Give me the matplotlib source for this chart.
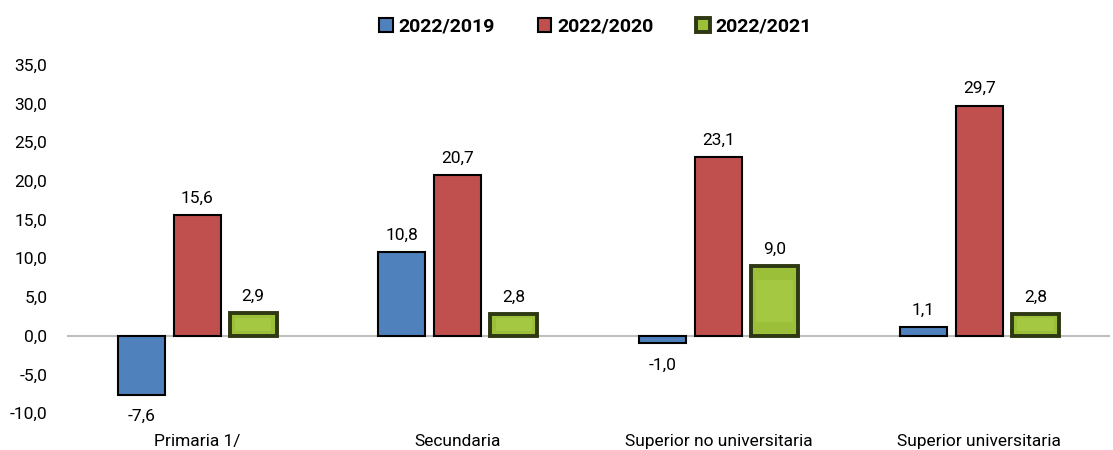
import numpy as np
import matplotlib
matplotlib.use("Agg")
import matplotlib.pyplot as plt
from matplotlib import font_manager

# pick a narrow font if available
names = {f.name for f in font_manager.fontManager.ttflist}
fam = ["Liberation Sans Narrow", "DejaVu Sans"] if "Liberation Sans Narrow" in names else ["Roboto", "DejaVu Sans"]
plt.rcParams["font.family"] = fam

categories = ["Primaria 1/", "Secundaria", "Superior no universitaria", "Superior universitaria"]
series = ["2022/2019", "2022/2020", "2022/2021"]
v2019 = [-7.6, 10.8, -1.0, 1.1]
v2020 = [15.6, 20.7, 23.1, 29.7]
v2021 = [2.9, 2.8, 9.0, 2.8]
yticks = [-10, -5, 0, 5, 10, 15, 20, 25, 30, 35]

fig = plt.figure(figsize=(11.13, 4.5), dpi=100)
ax = fig.add_axes([0.060, 0.082, 0.937, 0.774])

x = np.arange(len(categories))
w = 0.18
off = 0.215
colors = ["#4F81BD", "#C0504D", "#9BBF38"]
edges = ["black", "black", "#2E3812"]

for i, (vals, c, ec) in enumerate(zip([v2019, v2020, v2021], colors, edges)):
    xs = x + (i - 1) * off
    ax.bar(xs, vals, width=w, color=c, edgecolor=ec, linewidth=1.5 if i < 2 else 2.8,
           label=series[i], zorder=3)
    if i == 2:
        # soft inner highlight
        ax.bar(xs, [v * 0.6 for v in vals], bottom=[v * 0.2 for v in vals], width=w * 0.78,
               color="#B2D450", linewidth=0, zorder=4, alpha=0.45)
    for xx, v in zip(xs, vals):
        if v >= 0:
            ax.text(xx, v + 2.2, f"{v:.1f}".replace(".", ","), ha="center", va="center", fontsize=12.5)
        else:
            ax.text(xx, v - 2.8, f"{v:.1f}".replace(".", ","), ha="center", va="center", fontsize=12.5)

ax.axhline(0, color="#BFBFBF", linewidth=1.5, zorder=2)
ax.set_ylim(-10, 35)
ax.set_xlim(-0.5, 3.5)
ax.set_yticks(yticks)
ax.set_yticklabels([f"{t:.1f}".replace(".", ",") for t in yticks], fontsize=12.5)
ax.set_xticks(x)
ax.set_xticklabels(categories, fontsize=12.5)
ax.tick_params(axis="both", length=0)
ax.tick_params(axis="x", pad=15)
ax.tick_params(axis="y", pad=14)
for s in ax.spines.values():
    s.set_visible(False)

leg = fig.legend(loc="upper center", bbox_to_anchor=(0.535, 1.0), ncol=3, frameon=False,
                 prop={"weight": "bold", "size": 14}, handlelength=0.7, handleheight=0.7,
                 columnspacing=2.2, handletextpad=0.3)

fig.savefig("out.png", dpi=100)
